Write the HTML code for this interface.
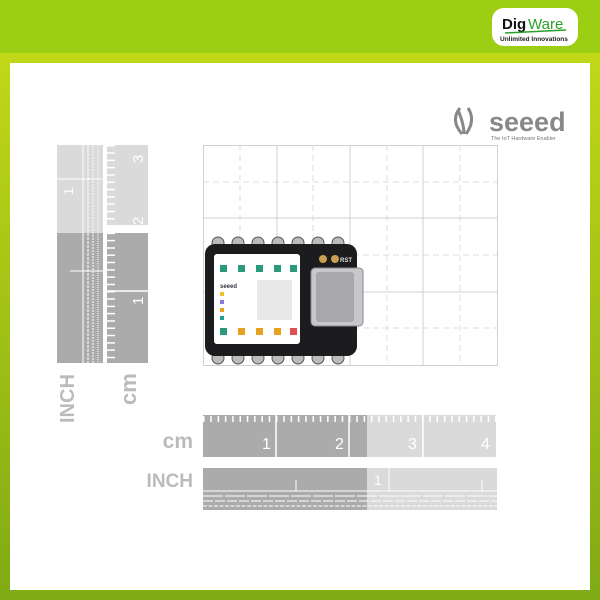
<!DOCTYPE html>
<html><head><style>body{margin:0}svg{display:block}</style></head><body>
<svg width="600" height="600" xmlns="http://www.w3.org/2000/svg" font-family="Liberation Sans, sans-serif">
<defs>
<linearGradient id="bg" x1="0" y1="0" x2="0" y2="1"><stop offset="0" stop-color="#c8dc18"/><stop offset="1" stop-color="#80aa14"/></linearGradient>
</defs>
<rect width="600" height="600" fill="url(#bg)"/>
<rect width="600" height="53" fill="#9ccf14"/>
<rect x="10" y="63" width="580" height="527" fill="#fff"/>
<!-- Digiware logo -->
<rect x="492" y="8" width="86" height="38" rx="12" fill="#fff"/>
<text x="502" y="29" font-size="15" font-weight="bold" fill="#111">Dig</text><text x="528" y="29" font-size="15" fill="#2aa02a">Ware</text>
<line x1="505" y1="33" x2="566" y2="30" stroke="#2aa02a" stroke-width="1.5"/>
<text x="500" y="41" font-size="6.5" font-weight="bold" fill="#222">Unlimited Innovations</text>
<!-- seeed logo -->
<path d="M460 108 Q450 120 462 134 M468 108 Q476 120 466 134 M458 110 Q464 124 464 134" stroke="#888" stroke-width="3" fill="none"/>
<text x="489" y="131" font-size="27" font-weight="bold" fill="#888">seeed</text>
<text x="491" y="140" font-size="5.5" fill="#777">The IoT Hardware Enabler</text>
<!-- grid -->
<g stroke="#d0d0d0" stroke-width="1" fill="none">
<rect x="203.5" y="145.5" width="294" height="220"/>
<g stroke-dasharray="6,4" stroke="#ddd">
<line x1="240" y1="145" x2="240" y2="365"/><line x1="313" y1="145" x2="313" y2="365"/><line x1="387" y1="145" x2="387" y2="365"/><line x1="460" y1="145" x2="460" y2="365"/>
<line x1="203" y1="182" x2="497" y2="182"/><line x1="203" y1="255" x2="497" y2="255"/><line x1="203" y1="328" x2="497" y2="328"/>
</g>
<line x1="277" y1="145" x2="277" y2="365"/><line x1="350" y1="145" x2="350" y2="365"/><line x1="423" y1="145" x2="423" y2="365"/>
<line x1="203" y1="218" x2="497" y2="218"/><line x1="203" y1="292" x2="497" y2="292"/>
</g>
<!-- board -->
<g fill="#bbb" stroke="#555" stroke-width="1">
<circle cx="218" cy="243" r="6"/><circle cx="238" cy="243" r="6"/><circle cx="258" cy="243" r="6"/><circle cx="278" cy="243" r="6"/><circle cx="298" cy="243" r="6"/><circle cx="318" cy="243" r="6"/><circle cx="338" cy="243" r="6"/>
<circle cx="218" cy="358" r="6"/><circle cx="238" cy="358" r="6"/><circle cx="258" cy="358" r="6"/><circle cx="278" cy="358" r="6"/><circle cx="298" cy="358" r="6"/><circle cx="318" cy="358" r="6"/><circle cx="338" cy="358" r="6"/>
</g>
<rect x="205" y="244" width="152" height="112" rx="10" fill="#1c1c1e"/>
<rect x="214" y="254" width="86" height="90" rx="3" fill="#fff"/>
<rect x="257" y="280" width="35" height="40" fill="#e8e8e8"/>
<g fill="#2a9a7a"><rect x="220" y="265" width="7" height="7"/><rect x="238" y="265" width="7" height="7"/><rect x="256" y="265" width="7" height="7"/><rect x="274" y="265" width="7" height="7"/><rect x="290" y="265" width="7" height="7"/><rect x="220" y="328" width="7" height="7"/></g>
<g fill="#e8a020"><rect x="238" y="328" width="7" height="7"/><rect x="256" y="328" width="7" height="7"/><rect x="274" y="328" width="7" height="7"/></g>
<rect x="290" y="328" width="7" height="7" fill="#e05050"/>
<text x="220" y="288" font-size="6" font-weight="bold" fill="#334">seeed</text>
<rect x="220" y="292" width="4" height="4" fill="#f0c030"/><rect x="220" y="300" width="4" height="4" fill="#8a7ae0"/><rect x="220" y="308" width="4" height="4" fill="#e8a020"/><rect x="220" y="316" width="4" height="4" fill="#20a090"/>
<circle cx="323" cy="259" r="4" fill="#c8a050"/><circle cx="335" cy="259" r="4" fill="#c8a050"/>
<text x="340" y="262" font-size="6" fill="#ddd" font-weight="bold">RST</text>
<rect x="311" y="268" width="52" height="58" rx="4" fill="#c8c8cc" stroke="#888"/>
<rect x="316" y="272" width="38" height="50" rx="3" fill="#a8a8ac"/>
<!-- vertical rulers -->
<rect x="57" y="145" width="46" height="88" fill="#dadada"/><rect x="57" y="233" width="46" height="130" fill="#ababab"/>
<rect x="107" y="145" width="41" height="80" fill="#dadada"/><rect x="107" y="233" width="41" height="130" fill="#ababab"/>
<g stroke="#fff" stroke-width="1">
<line x1="83" y1="145" x2="83" y2="363"/><line x1="88" y1="145" x2="88" y2="363" stroke-dasharray="3,1"/><line x1="93" y1="145" x2="93" y2="363" stroke-dasharray="2,1"/><line x1="98" y1="145" x2="98" y2="363" stroke-dasharray="1,1"/>
<line x1="57" y1="179" x2="103" y2="179"/><line x1="70" y1="271" x2="103" y2="271"/>
<line x1="111" y1="145" x2="111" y2="363" stroke-width="8" stroke-dasharray="1.5,5.8"/>
<line x1="107" y1="291" x2="148" y2="291" stroke-width="1.5"/>
<line x1="107" y1="229" x2="148" y2="229" stroke-width="1.5"/>
</g>
<text transform="translate(73,195) rotate(-90)" font-size="13" fill="#fff">1</text>
<text transform="translate(143,225) rotate(-90)" font-size="15" fill="#fff">2</text>
<text transform="translate(143,163) rotate(-90)" font-size="15" fill="#fff">3</text>
<text transform="translate(143,305) rotate(-90)" font-size="15" fill="#fff">1</text>
<text transform="translate(74,423) rotate(-90)" font-size="20" font-weight="bold" fill="#bbb">INCH</text>
<text transform="translate(136,405) rotate(-90)" font-size="22" font-weight="bold" fill="#bbb">cm</text>
<!-- horizontal rulers -->
<rect x="203" y="415" width="164" height="42" fill="#ababab"/><rect x="367" y="415" width="129" height="42" fill="#dadada"/>
<g stroke="#fff" stroke-width="1.5"><line x1="276" y1="415" x2="276" y2="457"/><line x1="349" y1="415" x2="349" y2="457"/><line x1="423" y1="415" x2="423" y2="457"/></g>
<line x1="203" y1="419" x2="496" y2="419" stroke="#fff" stroke-width="6" stroke-dasharray="1.5,5.8"/>
<text x="262" y="449" font-size="16" fill="#fff">1</text><text x="335" y="449" font-size="16" fill="#fff">2</text><text x="408" y="449" font-size="16" fill="#fff">3</text><text x="481" y="449" font-size="16" fill="#fff">4</text>
<text x="193" y="448" font-size="21" font-weight="bold" fill="#bbb" text-anchor="end">cm</text>
<rect x="203" y="468" width="164" height="42" fill="#ababab"/><rect x="367" y="468" width="130" height="42" fill="#dadada"/>
<g stroke="#fff" stroke-width="1"><line x1="203" y1="491" x2="497" y2="491"/><line x1="203" y1="496" x2="497" y2="496" stroke-dasharray="20,2"/><line x1="203" y1="501" x2="497" y2="501" stroke-dasharray="10,2"/><line x1="203" y1="506" x2="497" y2="506" stroke-dasharray="4,1.5"/><line x1="389" y1="468" x2="389" y2="491"/><line x1="296" y1="480" x2="296" y2="491"/><line x1="482" y1="480" x2="482" y2="491"/></g>
<text x="374" y="485" font-size="14" fill="#fff">1</text>
<text x="193" y="487" font-size="19" font-weight="bold" fill="#bbb" text-anchor="end">INCH</text>
</svg>
</body></html>
